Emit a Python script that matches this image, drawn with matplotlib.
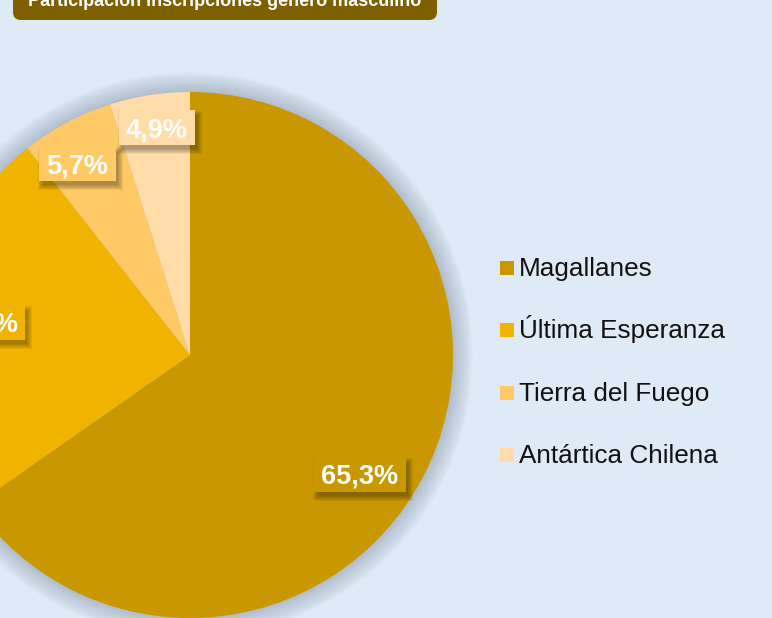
import matplotlib.pyplot as plt
from matplotlib.patches import Circle, Rectangle, FancyBboxPatch

plt.rcParams["font.family"] = ["Liberation Sans", "DejaVu Sans"]

TITLE = "Participación inscripciones género masculino"
PROVINCIAS = ["Magallanes", "Última Esperanza", "Tierra del Fuego", "Antártica Chilena"]
PCT = [65.3, 24.1, 5.7, 4.9]
COLORES = ["#C99700", "#F0B400", "#FFC966", "#FFDCA8"]
# where the data labels sit (pixels, x from left, y from top)
LABEL_POS = [(360, 474), (-21, 322), (77, 163), (157, 127)]

W, H = 772, 618
BG = "#DEEAF6"

def fy(y):
    # pixel row from top -> data y
    return H - y

fig = plt.figure(figsize=(W / 100, H / 100), dpi=100, facecolor=BG)
ax = fig.add_axes([0, 0, 1, 1])
ax.set_facecolor(BG)

# soft grey shadow round the pie
cx, cy, R = 190, fy(355), 263
for i in range(20):
    ax.add_patch(Circle((cx, cy), R + 20 - i, color="#7d8a98", alpha=0.022, lw=0, zorder=1))

ax.pie(PCT, colors=COLORES, startangle=90, counterclock=False,
       center=(cx, cy), radius=R, wedgeprops=dict(linewidth=0, zorder=2))

ax.set_xlim(0, W); ax.set_ylim(0, H)
ax.set_aspect("equal")
ax.axis("off")

# data labels with a blurred shadow under the box
renderer = fig.canvas.get_renderer()
for p, col, (x, y) in zip(PCT, COLORES, LABEL_POS):
    txt = f"{p:.1f}%".replace(".", ",")
    t = ax.text(x, fy(y), txt, ha="center", va="center_baseline", fontsize=19.5,
                fontweight="bold", color="white", zorder=6)
    bb = t.get_window_extent(renderer)
    bw, bh = bb.width + 15, 35
    x0, y0 = x - bw / 2, fy(y) - bh / 2
    for k in range(6):
        ax.add_patch(Rectangle((x0 + 4 - k, y0 - 4 - k), bw + 2 * k - 2, bh + 2 * k - 2,
                               fc="k", ec="none", alpha=0.06, zorder=4))
    ax.add_patch(Rectangle((x0, y0), bw, bh, fc=col, ec="none", zorder=5))

# legend
for i, (name, col) in enumerate(zip(PROVINCIAS, COLORES)):
    yc = 268 + i * 62.3
    ax.add_patch(Rectangle((500, fy(yc) - 7), 14, 14, fc=col, ec="none", zorder=5))
    ax.text(519, fy(yc + 8), name, va="baseline", ha="left", fontsize=18.8, color="#111111", zorder=5)

# title box, cut by the top edge as in the original
ax.add_patch(FancyBboxPatch((13, fy(20)), 424, 40, boxstyle="round,pad=0,rounding_size=8",
                            fc="#7F6000", ec="none", zorder=5))
ax.text(225, fy(6), TITLE, ha="center", va="baseline", fontsize=13,
        fontweight="bold", color="white", zorder=6)

fig.savefig("out.png", dpi=100, facecolor=BG)
